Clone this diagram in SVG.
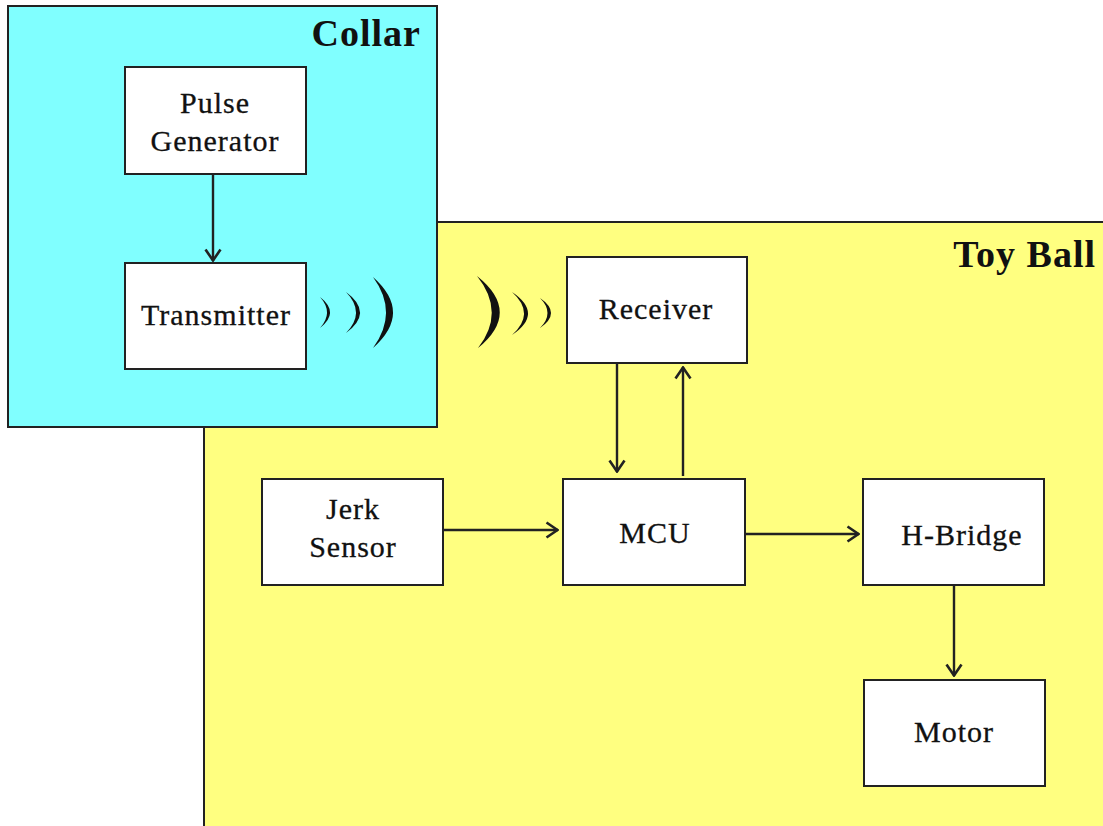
<svg xmlns="http://www.w3.org/2000/svg" width="1103" height="826" viewBox="0 0 1103 826">
  <style>
    .panel { stroke: #222; stroke-width: 2; }
    .box { fill: #ffffff; stroke: #222; stroke-width: 2; }
    .lbl { font-family: "Liberation Serif", "Times New Roman", serif; font-size: 30px; fill: #111; text-anchor: middle; letter-spacing: 1px; stroke: #111; stroke-width: 0.3; }
    .title { font-family: "Liberation Serif", "Times New Roman", serif; font-size: 38px; font-weight: bold; fill: #111; text-anchor: end; letter-spacing: 1px; }
    .wire { fill: none; stroke: #222; stroke-width: 2.4; }
    .wave { fill: #111; stroke: none; }
  </style>
  <defs>
    <marker id="head" viewBox="0 0 14 18" refX="13" refY="9" markerWidth="14" markerHeight="18" markerUnits="userSpaceOnUse" orient="auto">
      <path d="M1.5,1.5 L12.5,9 L1.5,16.5" fill="none" stroke="#222" stroke-width="2.6"/>
    </marker>
  </defs>

  <rect width="1103" height="826" fill="#ffffff"/>

  <!-- Toy Ball enclosure -->
  <g id="toyball">
    <rect class="panel" x="204" y="222" width="910" height="620" fill="#ffff80"/>
    <text class="title" x="1096" y="267">Toy Ball</text>
  </g>

  <!-- Collar enclosure -->
  <g id="collar">
    <rect class="panel" x="8" y="6" width="429" height="421" fill="#80ffff"/>
    <text class="title" x="421" y="46">Collar</text>
  </g>

  <!-- Radio waves between transmitter and receiver -->
  <g id="waves">
    <path class="wave" d="M320,297 Q340,312.5 320,328 Q334,312.5 320,297 Z"/>
    <path class="wave" d="M346,292 Q374,312.5 346,333 Q366,312.5 346,292 Z"/>
    <path class="wave" d="M373,277 Q413,312.5 373,348 Q399,312.5 373,277 Z"/>
    <path class="wave" d="M477,276 Q522,312 478,348 Q506,312 477,276 Z"/>
    <path class="wave" d="M512,292 Q544,313.5 512,335 Q536,313.5 512,292 Z"/>
    <path class="wave" d="M540,298 Q562,313 540,328 Q555,313 540,298 Z"/>
  </g>

  <!-- Connectors -->
  <g id="connectors">
    <line class="wire" x1="213" y1="174" x2="213" y2="261" marker-end="url(#head)"/>
    <line class="wire" x1="617" y1="364" x2="617" y2="472" marker-end="url(#head)"/>
    <line class="wire" x1="683" y1="476" x2="683" y2="367" marker-end="url(#head)"/>
    <line class="wire" x1="443" y1="530" x2="558" y2="530" marker-end="url(#head)"/>
    <line class="wire" x1="745" y1="534" x2="859" y2="534" marker-end="url(#head)"/>
    <line class="wire" x1="954" y1="585" x2="954" y2="676" marker-end="url(#head)"/>
  </g>

  <!-- Blocks -->
  <g id="pulse-generator">
    <rect class="box" x="125" y="67" width="181" height="107"/>
    <text class="lbl" x="215" y="113">Pulse</text>
    <text class="lbl" x="215" y="151">Generator</text>
  </g>
  <g id="transmitter">
    <rect class="box" x="125" y="263" width="181" height="106"/>
    <text class="lbl" x="216" y="325">Transmitter</text>
  </g>
  <g id="receiver">
    <rect class="box" x="567" y="257" width="180" height="106"/>
    <text class="lbl" x="656" y="319">Receiver</text>
  </g>
  <g id="jerk-sensor">
    <rect class="box" x="262" y="479" width="181" height="106"/>
    <text class="lbl" x="353" y="519">Jerk</text>
    <text class="lbl" x="353" y="557">Sensor</text>
  </g>
  <g id="mcu">
    <rect class="box" x="563" y="479" width="182" height="106"/>
    <text class="lbl" x="655" y="543">MCU</text>
  </g>
  <g id="h-bridge">
    <rect class="box" x="863" y="479" width="181" height="106"/>
    <text class="lbl" x="962" y="545">H-Bridge</text>
  </g>
  <g id="motor">
    <rect class="box" x="864" y="680" width="181" height="106"/>
    <text class="lbl" x="954" y="742">Motor</text>
  </g>
</svg>
